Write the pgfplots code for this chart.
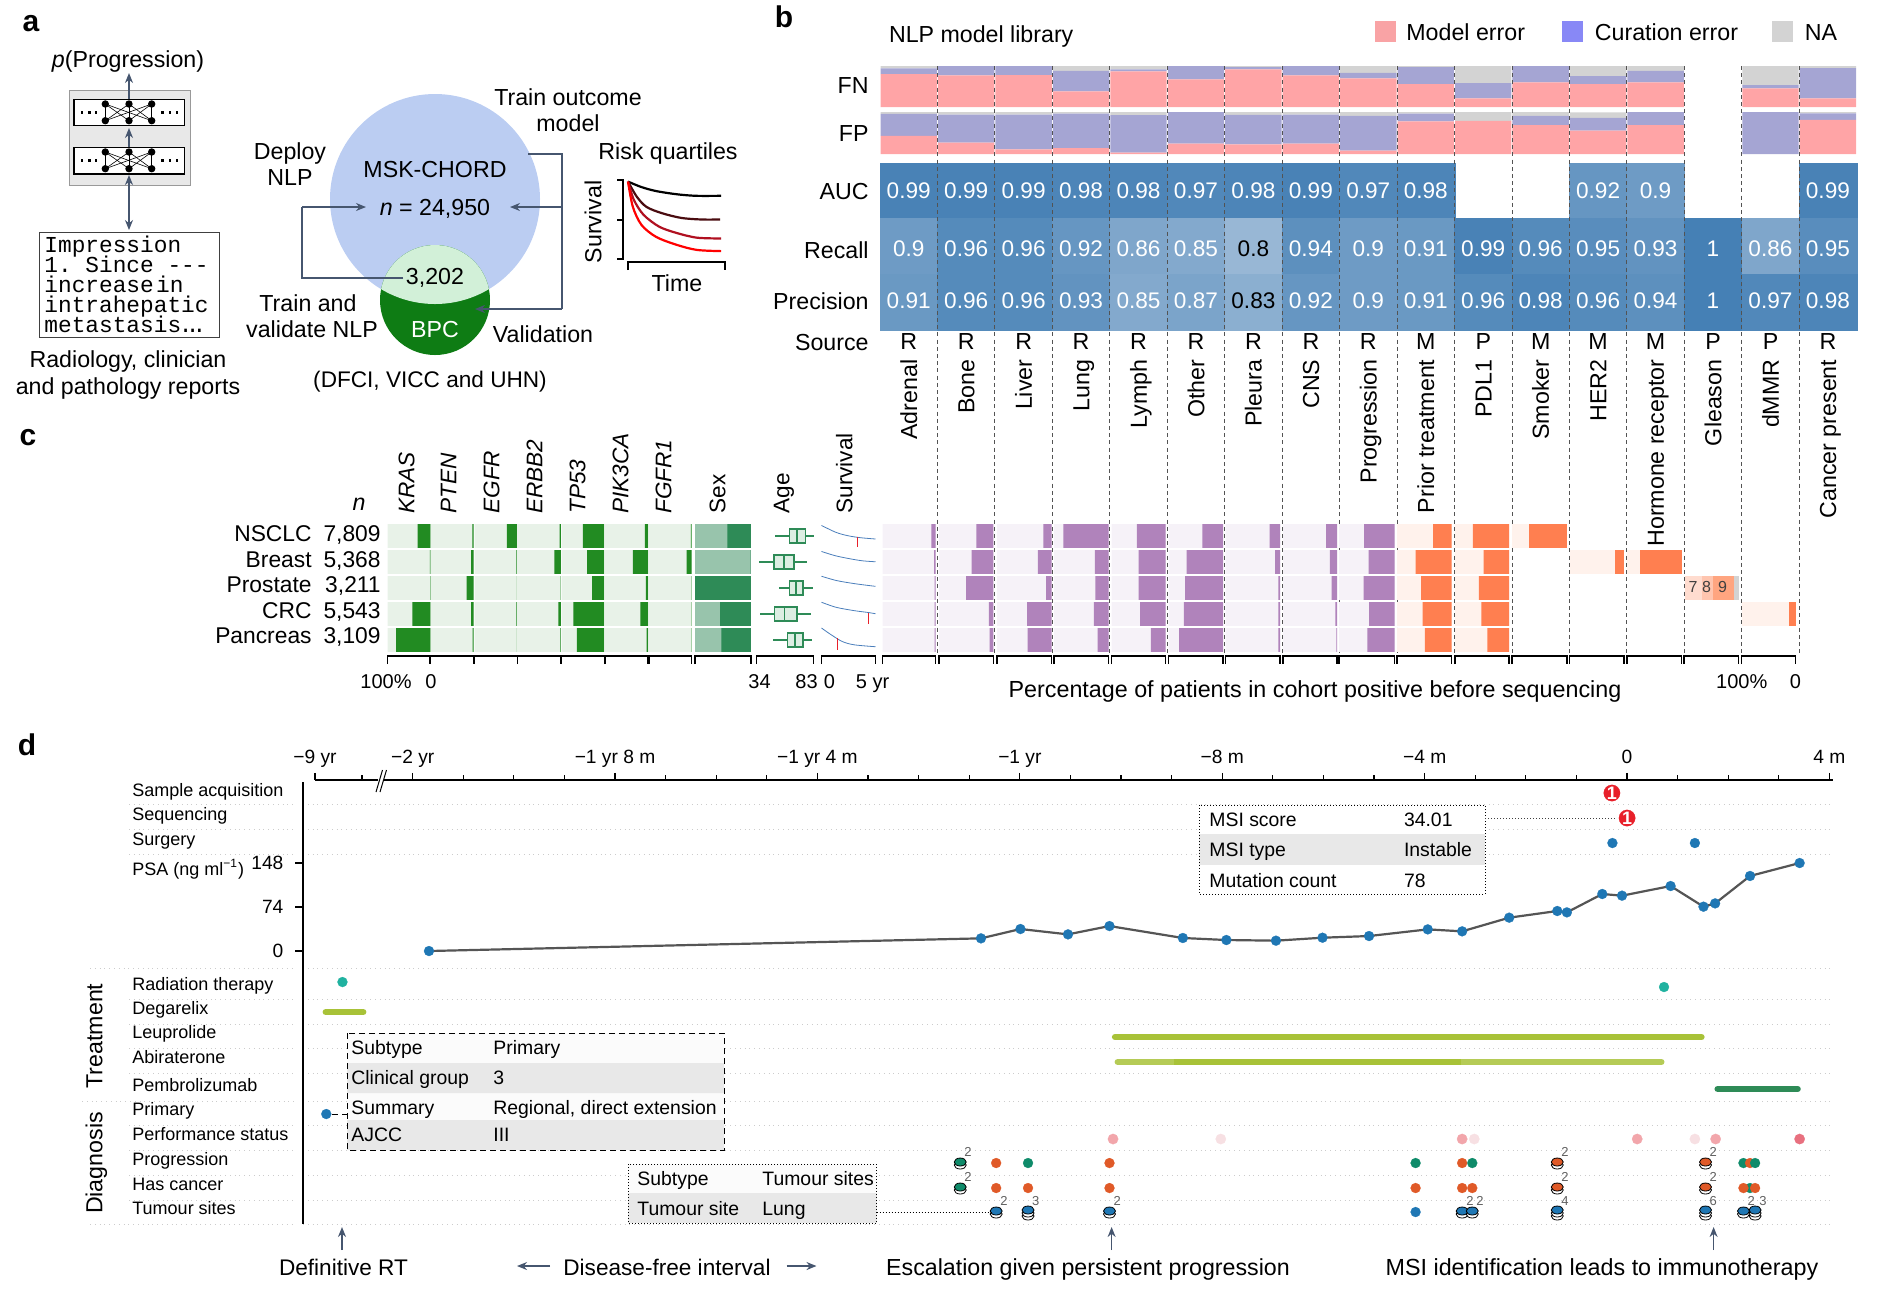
\documentclass[border=0pt]{standalone}
\usepackage{fontspec}
\setmainfont{Liberation Sans}
\setmonofont{Liberation Mono}
\usepackage{pgfplots}
\usepackage{pgfplotstable}
\pgfplotsset{compat=1.18}
\usepgfplotslibrary{statistics}
\usetikzlibrary{arrows.meta}

\newcommand\fs[1]{\fontsize{#1}{#1}\selectfont}

\definecolor{pinkerr}{HTML}{FFA4A6}
\definecolor{purperr}{HTML}{A5A5D3}
\definecolor{naerr}{HTML}{D3D3D3}
\definecolor{genel}{HTML}{E8F2E8}
\definecolor{gened}{HTML}{228B22}
\definecolor{sexl}{HTML}{98C4AC}
\definecolor{sexd}{HTML}{2E8B57}
\definecolor{agel}{HTML}{DDEEE3}
\definecolor{purl}{HTML}{F6F2F8}
\definecolor{purd}{HTML}{B083BB}
\definecolor{oral}{HTML}{FFF2EC}
\definecolor{orad}{HTML}{FF7F50}
\definecolor{arrowc}{HTML}{46566F}
\definecolor{tblue}{HTML}{1F77B4}
\definecolor{tred}{HTML}{E8202A}
\definecolor{tteal}{HTML}{20B2A0}
\definecolor{tgreen}{HTML}{0F8B6A}
\definecolor{torange}{HTML}{E05A28}
\definecolor{tolive}{HTML}{A8C238}
\definecolor{psal}{HTML}{555555}
\definecolor{vennb}{HTML}{BBCDF2}
\definecolor{venng}{HTML}{0E7C14}
\definecolor{vennl}{HTML}{D2F0D8}
\definecolor{crv2}{HTML}{4A0C10}
\definecolor{crv3}{HTML}{B01020}
\definecolor{keyp}{HTML}{F9A3A5}
\definecolor{keyc}{HTML}{8888F6}
\definecolor{gl9}{HTML}{FFA580}
\definecolor{gl8}{HTML}{FFC5AF}
\definecolor{gl7}{HTML}{FFDCCF}
\definecolor{ps1}{HTML}{F7E0E3}
\definecolor{ps2}{HTML}{F2A6AB}
\definecolor{ps3}{HTML}{E8707F}
\definecolor{survb}{HTML}{4A7EBB}

\tikzset{
  every node/.style={font=\fs{11.6},inner sep=0pt},
  pix/.style={x=0.5pt,y=-0.5pt},
  l/.style={anchor=mid west},
  r/.style={anchor=mid east},
  c/.style={anchor=mid},
  arr/.style={arrowc,line width=.7pt,-{Stealth[length=5pt,width=4pt]}},
}
\pgfplotsset{
  box/.style n args={4}{at={({#1*0.5pt},{-#2*0.5pt})},anchor=north west,scale only axis,
    width={(#3-#1)*0.5pt},height={(#4-#2)*0.5pt},clip=false},
  dot/.style={only marks,mark=*,mark size=2.5pt,color=#1,mark options={fill=#1,draw=#1,line width=.1pt}},
  stk/.style={only marks,mark=*,mark size=2.5pt,color=black,mark options={fill=#1,draw=black,line width=.4pt,xscale=1.2,yscale=.8}},
}

% panel b tables
\pgfplotstableread{
x model cur na
0 .805 .14 .055
1 .77 .23 0
2 .78 .22 0
3 .38 .50 .12
4 .87 .05 .08
5 .675 .325 0
6 .92 .055 .025
7 .77 .23 0
8 .70 .13 .17
9 .56 .415 .025
10 .21 .375 .415
11 .60 .40 0
12 .56 .195 .245
13 .60 .28 .12
15 .455 .08 .465
16 .21 .74 .05
}\fntable
\pgfplotstableread{
x model cur na
0 .43 .525 .045
1 .27 .67 .06
2 .11 .83 .06
3 .14 .82 .04
4 .03 .895 .075
5 .25 .75 0
6 .23 .70 .07
7 .25 .69 .06
8 .08 .83 .09
9 .78 .18 .04
10 .79 0 .21
11 .685 .225 .09
12 .555 .305 .13
13 .685 .315 0
15 0 1 0
16 .81 .155 .035
}\fptable

\newcommand\errbars[3]{%
  \begin{axis}[box={880}{#2}{1856.6}{#3},hide axis,xmin=-.5,xmax=16.5,ymin=0,ymax=1,
    ybar stacked,bar width=28.2pt]
    \addplot[fill=pinkerr,draw=none] table[x=x,y=model] {#1};
    \addplot[fill=purperr,draw=none] table[x=x,y=cur] {#1};
    \addplot[fill=naerr,draw=none] table[x=x,y=na] {#1};
  \end{axis}}

% panel c: one column, five cohorts, percentage runs from 100 at left to 0 at right
\newcommand\cbar[9]{%
  \begin{axis}[box={#1}{520.4}{#2}{655},hide axis,x dir=reverse,y dir=reverse,
    xmin=0,xmax=100,ymin=-.6,ymax=4.577,xbar,bar width=11.8pt,bar shift=0pt]
    \addplot[fill=#3,draw=none] coordinates {(100,0)(100,1)(100,2)(100,3)(100,4)};
    \addplot[fill=#4,draw=none] coordinates {(#5,0)(#6,1)(#7,2)(#8,3)(#9,4)};
  \end{axis}}
\newcommand\cpart[6]{%
  \begin{axis}[box={#1}{520.4}{#2}{655},hide axis,x dir=reverse,y dir=reverse,
    xmin=0,xmax=100,ymin=-.6,ymax=4.577,xbar,bar width=11.8pt,bar shift=0pt]
    \addplot[fill=#3,draw=none] coordinates {(100,#5)};
    \addplot[fill=#4,draw=none] coordinates {(#6,#5)};
  \end{axis}}
\newcommand\survrow[3]{%
  \begin{axis}[box={821.5}{#1}{875.5}{#1+24},hide axis,xmin=0,xmax=5,ymin=0,ymax=1]
    \addplot[survb,line width=.4pt,smooth] coordinates {#2};
    #3
  \end{axis}}
\newcommand\med[1]{\addplot[tred,line width=.5pt] coordinates {#1};}
\newcommand\brk[2]{\draw[line width=.6pt] (#1,664)--(#1,656)--(#2,656)--(#2,664);}

\begin{document}
\begin{tikzpicture}
\useasboundingbox (0,0) rectangle (942pt,-649pt);

%% ---------- panel a
\begin{scope}[pix,every node/.append style={yshift=-1pt}]
  \node[font=\fs{15}\bfseries,c] at (31,24) {a};
  \fill[gray!18] (69,90) rectangle (190,185);
  \draw[gray!80,line width=.5pt] (69,90) rectangle (190,185);
  \foreach \yt/\yb/\ya/\yc in {99.3/125.7/104/120.7,147.3/174/152/168.7}{
    \fill[white] (74,\yt) rectangle (184.5,\yb);
    \draw[line width=.7pt] (74,\yt) rectangle (184.5,\yb);
    \foreach \xa in {105.3,129,151.7}{
      \foreach \xb in {105.3,129,151.7}{\draw[line width=.3pt] (\xa,\ya)--(\xb,\yc);}
      \fill (\xa,\ya) circle (3.7);
      \fill (\xa,\yc) circle (3.7);
    }
    \pgfmathsetmacro\ym{(\yt+\yb)/2}
    \foreach \xd in {81.7,89.3,96,162.3,170,176.7}{\fill (\xd-1.2,\ym-1.2) rectangle (\xd+1.2,\ym+1.2);}
  }
  \draw[arr] (129,99)--(129,73);
  \draw[arr] (129,147)--(129,128);
  \draw[arrowc,line width=.7pt,{Stealth[length=5pt,width=4pt]}-{Stealth[length=5pt,width=4pt]}] (129,230)--(129,175);
  \node[c] at (128,60) {\textit{p}(Progression)};
  \draw[line width=.45pt,draw=gray!50!black,fill=white] (39,232) rectangle (219,337);
  \node[l,font=\fs{11.4}\ttfamily] at (44,245) {Impression};
  \node[l,font=\fs{11.4}\ttfamily] at (44,265) {1. Since ---};
  \node[l,font=\fs{11.4}\ttfamily] at (44,285) {increase\kern.1em in};
  \node[l,font=\fs{11.4}\ttfamily] at (44,305) {intrahepatic};
  \node[l,font=\fs{11.4}\ttfamily] at (44,325) {metastasis\kern-.1em.\kern-.3em.\kern-.3em.};
  \node[c] at (128,360) {Radiology, clinician};
  \node[c] at (128,387) {and pathology reports};
  \fill[vennb] (435,199) circle (105);
  \fill[venng] (435,300) circle (55);
  \begin{scope}
    \clip (435,199) circle (105);
    \fill[vennl] (435,300) circle (55);
  \end{scope}
  \draw[arrowc,line width=.7pt] (528,154)--(562,154)--(562,309);
  \draw[arr] (562,309)--(475,309);
  \draw[arr] (562,207)--(510,207);
  \draw[arrowc,line width=.7pt] (403,278)--(302,278)--(302,207);
  \draw[arr] (302,207)--(366,207);
  \node[c] at (435,170) {MSK-CHORD};
  \node[c] at (435,208) {\textit{n} = 24,950};
  \node[c] at (435,277) {3,202};
  \node[c,white] at (435,330) {BPC};
  \node[c] at (568,98) {Train outcome};
  \node[c] at (568,124) {model};
  \node[c] at (290,152) {Deploy};
  \node[c] at (290,178) {NLP};
  \node[c] at (308,304) {Train and};
  \node[c] at (312,330) {validate NLP};
  \node[c] at (543,335) {Validation};
  \node[c,font=\fs{11.3}] at (430,380) {(DFCI, VICC and UHN)};
  \node[c] at (668,152) {Risk quartiles};
  \node[c,rotate=90,yshift=1pt] at (598,220) {Survival};
  \node[c] at (677,284) {Time};
  \draw[line width=.6pt] (617,180)--(623,180)--(623,259)--(617,259) (617,220)--(623,220);
  \draw[line width=.6pt] (628,270)--(628,262)--(725,262)--(725,270);
\end{scope}
\begin{axis}[box={628}{180}{725}{259},hide axis,xmin=0,xmax=1,ymin=0,ymax=1]
  \addplot[black,line width=1.1pt,smooth] coordinates {(0,.98)(.14,.91)(.29,.86)(.5,.82)(.7,.80)(.96,.80)};
  \addplot[crv2,line width=1.1pt,smooth] coordinates {(0,.98)(.09,.79)(.19,.66)(.35,.58)(.55,.52)(.76,.50)(.95,.50)};
  \addplot[crv3,line width=1.1pt,smooth] coordinates {(0,.98)(.06,.75)(.16,.56)(.32,.41)(.5,.33)(.71,.27)(.96,.26)};
  \addplot[red,line width=1.1pt,smooth] coordinates {(0,.98)(.05,.66)(.14,.43)(.29,.28)(.5,.18)(.71,.115)(.96,.10)};
\end{axis}

%% ---------- panel b
\errbars{\fntable}{66}{107}
\errbars{\fptable}{112}{154}
\begin{axis}[box={880}{163}{1856.6}{330},hide axis,xmin=-.5,xmax=16.5,y dir=reverse,ymin=-.5,ymax=2.5,
  colormap={hm}{rgb255=(152,183,213) rgb255=(69,128,181)},
  point meta min=.8,point meta max=1,
  /pgf/number format/.cd,fixed,precision=2,assume math mode=true]
  \addplot[scatter,only marks,mark=square*,mark size=14pt,scatter src=explicit,
    mark options={xscale=1.03,yscale=1,line width=.05pt},scatter/use mapped color={fill=mapped color,draw=mapped color}]
    coordinates {
    (0,0)[.99](1,0)[.99](2,0)[.99](3,0)[.98](4,0)[.98](5,0)[.97](6,0)[.98](7,0)[.99](8,0)[.97](9,0)[.98](12,0)[.92](13,0)[.9](16,0)[.99]
    (0,1)[.9](1,1)[.96](2,1)[.96](3,1)[.92](4,1)[.86](5,1)[.85](6,1)[.8](7,1)[.94](8,1)[.9](9,1)[.91](10,1)[.99](11,1)[.96](12,1)[.95](13,1)[.93](14,1)[1](15,1)[.86](16,1)[.95]
    (0,2)[.91](1,2)[.96](2,2)[.96](3,2)[.93](4,2)[.85](5,2)[.87](6,2)[.83](7,2)[.92](8,2)[.9](9,2)[.91](10,2)[.96](11,2)[.98](12,2)[.96](13,2)[.94](14,2)[1](15,2)[.97](16,2)[.98]
    };
  \addplot[only marks,mark=none,point meta=explicit,nodes near coords,
    nodes near coords style={anchor=center,white,font=\fs{11.3}}] coordinates {
    (0,0)[.99](1,0)[.99](2,0)[.99](3,0)[.98](4,0)[.98](5,0)[.97](6,0)[.98](7,0)[.99](8,0)[.97](9,0)[.98](12,0)[.92](13,0)[.9](16,0)[.99]
    (0,1.035)[.9](1,1.035)[.96](2,1.035)[.96](3,1.035)[.92](4,1.035)[.86](5,1.035)[.85](7,1.035)[.94](8,1.035)[.9](9,1.035)[.91](10,1.035)[.99](11,1.035)[.96](12,1.035)[.95](13,1.035)[.93](14,1.035)[1](15,1.035)[.86](16,1.035)[.95]
    (0,1.975)[.91](1,1.975)[.96](2,1.975)[.96](3,1.975)[.93](4,1.975)[.85](5,1.975)[.87](7,1.975)[.92](8,1.975)[.9](9,1.975)[.91](10,1.975)[.96](11,1.975)[.98](12,1.975)[.96](13,1.975)[.94](14,1.975)[1](15,1.975)[.97](16,1.975)[.98]
    };
  \addplot[only marks,mark=none,point meta=explicit,nodes near coords,
    nodes near coords style={anchor=center,black,font=\fs{11.3}}] coordinates {(6,1.035)[.8](6,1.975)[.83]};
\end{axis}
\begin{scope}[pix,every node/.append style={yshift=-1.1pt}]
  \node[font=\fs{15}\bfseries,c] at (784,20) {b};
  \node[l] at (888.6,35) {NLP model library};
  \fill[keyp] (1375,21) rectangle (1396,42);
  \node[l] at (1406,33) {Model error};
  \fill[keyc] (1562,21) rectangle (1583,42);
  \node[l] at (1594.5,33) {Curation error};
  \fill[naerr] (1772,21) rectangle (1793,42);
  \node[l] at (1804.5,33) {NA};
  \foreach \t/\y in {FN/86,FP/134,AUC/192,Recall/251,Precision/302,Source/343}{\node[r] at (869,\y) {\t};}
  \foreach \i in {1,...,16}{
    \pgfmathsetmacro\xx{880+57.45*\i}
    \draw[gray!65!black,line width=.45pt,dash pattern=on 2pt off 1.6pt] (\xx,66)--(\xx,653);
  }
  \foreach \i/\s/\t in {0/R/Adrenal,1/R/Bone,2/R/Liver,3/R/Lung,4/R/Lymph,5/R/Other,6/R/Pleura,7/R/CNS,8/R/Progression,9/M/Prior treatment,10/P/PDL1,11/M/Smoker,12/M/HER2,13/M/Hormone receptor,14/P/Gleason,15/P/dMMR,16/R/Cancer present}{
    \pgfmathsetmacro\xx{880+57.45*(\i+.5)}
    \node[c] at (\xx,342) {\s};
    \node[rotate=90,anchor=mid east] at (\xx+3,357) {\t};
  }
\end{scope}

%% ---------- panel c
\cbar{387.5}{430.5}{genel}{gened}{30}{1.5}{1}{42}{80}
\cbar{430.5}{473.6}{genel}{gened}{3}{6}{16}{6}{2.5}
\cbar{474.5}{517.2}{genel}{gened}{24}{2}{.5}{2}{.5}
\cbar{517.2}{560.9}{genel}{gened}{3}{15}{.5}{6}{1}
\cbar{561.5}{604}{genel}{gened}{50}{40}{28}{72}{64}
\cbar{605}{648}{genel}{gened}{7}{35}{5}{18}{3}
\cbar{649}{691.7}{genel}{gened}{2}{12}{1}{1}{1}
\cbar{695}{750.9}{sexl}{sexd}{42}{.5}{100}{55}{53}
\cbar{882.5}{935.7}{purl}{purd}{8}{3}{2}{2}{2}
\cbar{939}{993.3}{purl}{purd}{31}{40}{50}{8}{7}
\cbar{997}{1051.6}{purl}{purd}{15}{25}{10}{45}{44}
\cbar{1054}{1108.5}{purl}{purd}{83}{25}{24}{27}{20}
\cbar{1111.7}{1165.5}{purl}{purd}{53}{50}{50}{47}{27}
\cbar{1168.7}{1223}{purl}{purd}{38}{67}{70}{72}{81}
\cbar{1225.7}{1280}{purl}{purd}{19}{9}{3}{3}{3}
\cbar{1283}{1337}{purl}{purd}{20}{13}{10}{3}{1}
\cbar{1339}{1394.7}{purl}{purd}{55}{47}{56}{46}{49}
\cbar{1397}{1451.7}{oral}{orad}{34}{66}{56}{53}{49}
\cbar{1455}{1509}{oral}{orad}{67}{47}{56}{51}{40}
\cpart{1512}{1567}{oral}{orad}{0}{69}
\cpart{1569.5}{1624}{oral}{orad}{1}{16}
\cpart{1627}{1681.5}{oral}{orad}{1}{77}
\cpart{1741.7}{1795.5}{oral}{orad}{3}{12}
\begin{axis}[box={1684}{520.4}{1738.5}{655},hide axis,x dir=reverse,y dir=reverse,
  xmin=0,xmax=100,ymin=-.6,ymax=4.577,xbar stacked,bar width=11.8pt]
  \addplot[fill=naerr,draw=none] coordinates {(8,2)};
  \addplot[fill=gl9,draw=none] coordinates {(39,2)};
  \addplot[fill=gl8,draw=none] coordinates {(20,2)};
  \addplot[fill=gl7,draw=none] coordinates {(31,2)};
\end{axis}
% age distribution of each cohort
\begin{axis}[box={756.6}{520.4}{813.4}{655},hide axis,y dir=reverse,xmin=34,xmax=83,ymin=-.6,ymax=4.577,
  boxplot/box extend=.55,boxplot/whisker extend=0]
  \addplot[boxplot prepared={lower whisker=49.8,lower quartile=62.2,median=69,upper quartile=76,upper whisker=83.5,draw position=0},draw=sexd,fill=agel,line width=.7pt] coordinates {};
  \addplot[boxplot prepared={lower whisker=36,lower quartile=48.9,median=57.8,upper quartile=66.2,upper whisker=77.5,draw position=1},draw=sexd,fill=agel,line width=.7pt] coordinates {};
  \addplot[boxplot prepared={lower whisker=53.3,lower quartile=62.2,median=68,upper quartile=74.1,upper whisker=82.5,draw position=2},draw=sexd,fill=agel,line width=.7pt] coordinates {};
  \addplot[boxplot prepared={lower whisker=37,lower quartile=49.3,median=58,upper quartile=68.7,upper whisker=81,draw position=3},draw=sexd,fill=agel,line width=.7pt] coordinates {};
  \addplot[boxplot prepared={lower whisker=47.9,lower quartile=60.7,median=67,upper quartile=74,upper whisker=82,draw position=4},draw=sexd,fill=agel,line width=.7pt] coordinates {};
\end{axis}
\survrow{524}{(0,.94)(1.35,.65)(2.47,.51)(3.6,.43)(5,.375)}{\med{(3.37,.46)(3.37,.04)}}
\survrow{550}{(0,.94)(1.29,.76)(2.7,.63)(3.8,.55)(5,.51)}{}
\survrow{576}{(0,.99)(1.4,.81)(3.09,.68)(5,.57)}{}
\survrow{602}{(0,.99)(1.35,.78)(3.03,.64)(4.38,.56)(5,.51)}{\med{(4.38,.53)(4.38,.08)}}
\survrow{628}{(0,1)(.79,.75)(1.91,.44)(3.03,.30)(5,.22)}{\med{(1.46,.58)(1.46,.08)}}
\begin{scope}[pix]
  \node[font=\fs{15}\bfseries,c] at (28,440) {c};
  \node[c] at (359,505) {\textit{n}};
  \foreach \t/\n/\y in {NSCLC/7{,}809/536,Breast/5{,}368/562,Prostate/3{,}211/587,CRC/5{,}543/613,Pancreas/3{,}109/638}{
    \node[r,font=\fs{11.4}] at (312,\y) {\t};
    \node[r,font=\fs{11.4}] at (381,\y) {\n};
  }
  \foreach \t/\x in {KRAS/409,PTEN/451,EGFR/494,ERBB2/537,TP53/580,PIK3CA/623,FGFR1/666}{
    \node[rotate=90,anchor=mid west,font=\fs{11.3}] at (\x,514) {\textit{\t}};
  }
  \foreach \t/\x in {Sex/720,Age/784,Survival/847}{
    \node[rotate=90,anchor=mid west,font=\fs{11.3}] at (\x,514) {\t};
  }
  \foreach \a/\b in {387.5/430,430.5/473.6,474.5/517.2,517.8/560.9,561.5/604.5,605/648,649/691.7,695/750.9,756.6/813.4,821.5/875.5,882.5/935.7,939/993.3,997/1051.6,1054/1108.5,1111.7/1165.5,1168.7/1223,1225.7/1280,1283/1337,1339/1394.7,1397/1451.7,1455/1509,1512/1567,1569.5/1624,1627/1681.5,1684/1738.5,1741.7/1795.5}{\brk{\a}{\b}}
  \foreach \t/\x in {100\%/386,0/431,34/759.5,83/806.5,0/829.5,5 yr/872.6,100\%/1741.7,0/1795.5}{
    \node[c,font=\fs{10}] at (\x,683) {\t};
  }
  \node[c,font=\fs{11.65}] at (1315,692) {Percentage of patients in cohort positive before sequencing};
  \foreach \t/\x in {7/1693,8/1706.5,9/1722.5}{\node[c,font=\fs{8},gray!50!black] at (\x,587) {\t};}
\end{scope}

%% ---------- panel d
\begin{axis}[box={315}{779.8}{1833}{780},separate axis lines,
  x axis line style={line width=.7pt},y axis line style={draw=none},ytick=\empty,
  xtick pos=top,xticklabel pos=top,
  xmin=-25.93,xmax=4.07,ymin=0,ymax=1,tick align=outside,major tick length=3.4pt,minor tick length=2.2pt,
  tick style={black,line width=.6pt},
  xtick={-25.93,-24,-20,-16,-12,-8,-4,0,4},
  xticklabels={−9 yr,−2 yr,−1 yr 8 m,−1 yr 4 m,−1 yr,−8 m,−4 m,0,4 m},
  minor xtick={-25,-23,-22,-21,-19,-18,-17,-15,-14,-13,-11,-10,-9,-7,-6,-5,-3,-2,-1,1,2,3},
  xticklabel style={font=\fs{9.6},text depth=0pt},xticklabel shift=4.5pt]
\end{axis}
\begin{axis}[box={303}{782}{1833}{1224},axis x line=none,axis y line=left,axis line style={-,line width=.6pt},
  xmin=-26.17,xmax=4.07,y dir=reverse,ymin=782,ymax=1224,
  ytick={804,829,854,968,999,1024,1048,1073,1101,1125,1150,1175,1200,1224},yticklabels={},
  major tick length=0pt,ymajorgrids,grid style={dotted,line width=.4pt,gray!40}]
  % sample acquisition, sequencing, surgery
  \addplot[dot=tred,mark size=4.1pt,point meta=explicit symbolic,
    nodes near coords,nodes near coords style={anchor=center,white,font=\fs{9}\bfseries}]
    coordinates {(-0.30,793)[1](0,818)[1]};
  \addplot[dot=tblue] coordinates {(-0.29,843)(1.34,843)};
  % radiation therapy and drugs
  \addplot[dot=tteal] coordinates {(-25.39,982)(0.73,987)};
  \addplot[tolive,line width=3.2pt,line cap=round] coordinates {(-25.72,1012)(-24.98,1012)};
  \addplot[tolive,line width=3.2pt,line cap=round] coordinates {(-10.12,1037)(1.47,1037)};
  \addplot[tolive!85!white,line width=3pt,line cap=round] coordinates {(-10.07,1062)(.68,1062)};
  \addplot[tolive,line width=3.2pt] coordinates {(-8.96,1062)(-3.28,1062)};
  \addplot[sexd,line width=3.2pt,line cap=round] coordinates {(1.79,1089)(3.37,1089)};
  % primary
  \addplot[dot=tblue] coordinates {(-25.71,1114)};
  % performance status
  \addplot[dot=ps1,mark size=2.6pt] coordinates {(-8.03,1139)(-3.02,1139)(1.34,1139)};
  \addplot[dot=ps2,mark size=2.6pt] coordinates {(-10.16,1139)(-3.26,1139)(0.20,1139)(1.75,1139)};
  \addplot[dot=ps3,mark size=2.6pt] coordinates {(3.41,1139)};
  % lower layers of stacked events
  \addplot[stk=white]
    coordinates {(-13.18,1165)(-1.38,1165)(1.55,1165)(-13.18,1190)(-1.38,1190)(1.55,1190)
      (-12.47,1214)(-10.23,1214)(-3.26,1214)(-3.06,1214)(2.30,1214)
      (-11.84,1216)(-1.38,1216)(1.55,1216)(2.53,1216)(-11.84,1213)(-1.38,1213)(1.55,1213)(2.53,1213)};
  % progression, has cancer, tumour sites
  \addplot[stk=tgreen] coordinates {(-13.18,1162)(-13.18,1187)};
  \addplot[stk=torange] coordinates {(-1.38,1162)(1.55,1162)(-1.38,1187)(1.55,1187)};
  \addplot[stk=tblue]
    coordinates {(-12.47,1211)(-10.23,1211)(-3.26,1211)(-3.06,1211)(2.30,1211)(-11.84,1210)(-1.38,1210)(1.55,1210)(2.53,1210)};
  \addplot[dot=tgreen] coordinates {(-11.84,1163)(-4.18,1163)(-3.06,1163)(2.30,1163)(2.43,1188)};
  \addplot[dot=torange]
    coordinates {(-12.47,1163)(-10.23,1163)(-3.26,1163)(2.43,1163)
      (-12.47,1188)(-11.84,1188)(-10.23,1188)(-4.18,1188)(-3.26,1188)(-3.06,1188)(2.30,1188)(2.53,1188)};
  \addplot[dot=tgreen] coordinates {(2.53,1163)};
  \addplot[dot=tblue] coordinates {(-4.18,1212)};
  % event counts
  \addplot[only marks,mark=none,point meta=explicit symbolic,nodes near coords,
    nodes near coords style={anchor=center,xshift=3.9pt,yshift=5pt,font=\fs{6.5},gray!75!black}]
    coordinates {(-13.18,1162)[2](-1.38,1162)[2](1.55,1162)[2](-13.18,1187)[2](-1.38,1187)[2](1.55,1187)[2]
      (-12.47,1211)[2](-11.84,1211)[3](-10.23,1211)[2](-3.26,1211)[2](-3.06,1211)[2](-1.38,1211)[4](1.55,1211)[6](2.30,1211)[2](2.53,1211)[3]};
\end{axis}
\begin{axis}[box={303}{863}{1833}{951},separate axis lines,
  x axis line style={draw=none},y axis line style={draw=none},xtick=\empty,
  ytick pos=left,yticklabel pos=left,
  xmin=-26.17,xmax=4.07,ymin=0,ymax=148,ytick={0,74,148},tick align=outside,major tick length=3.9pt,
  tick style={black,line width=.6pt},
  yticklabel style={font=\fs{9.6}},yticklabel shift=5.7pt,
  /pgf/number format/assume math mode=true]
  \addplot[psal,line width=1.1pt,mark=*,mark size=2.5pt,mark options={fill=tblue,draw=tblue,line width=.1pt}] coordinates {
    (-23.68,0)(-12.77,21.3)(-11.99,37.0)(-11.05,28.0)(-10.23,42.0)(-8.78,21.9)(-7.92,18.5)(-6.94,17.4)
    (-6.02,22.4)(-5.10,25.2)(-3.94,36.4)(-3.26,33.1)(-2.33,56.1)(-1.38,67.3)(-1.19,65.0)(-0.49,95.9)
    (-0.10,93.1)(0.86,109.3)(1.51,74.6)(1.74,80.1)(2.43,126.2)(3.41,148.0)};
\end{axis}
\begin{scope}[pix]
  \node[font=\fs{15}\bfseries,c] at (27,750) {d};
  \fill[white] (378,772) rectangle (384,788);
  \draw[line width=.5pt] (376,792)--(382.5,770) (380,792)--(386.5,770);
  \foreach \y in {804,829,854,999,1024,1048,1073,1125,1150,1175,1200}{\draw[dotted,line width=.4pt,gray!40] (129,\y)--(294,\y);}
  \draw[dotted,line width=.4pt,gray!40] (90,968)--(294,968) (82,1101)--(294,1101) (90,1224)--(294,1224);
  \foreach \t/\y in {Sample acquisition/791,Sequencing/815,Surgery/840,PSA (ng ml\textsuperscript{−1})/870,Radiation therapy/985,Degarelix/1009,Leuprolide/1033,Abiraterone/1058,Pembrolizumab/1086,Primary/1110,Performance status/1135,Progression/1160,Has cancer/1185,Tumour sites/1209}{
    \node[l,font=\fs{9}] at (132,\y) {\t};
  }
  \node[c,rotate=90] at (97,1036) {Treatment};
  \node[c,rotate=90] at (97,1163) {Diagnosis};
  % MSI table
  \fill[white] (1199,805) rectangle (1485,894);
  \fill[gray!18] (1199,834) rectangle (1485,865);
  \draw[densely dotted,line width=.5pt] (1199,805) rectangle (1485,894);
  \foreach \a/\b/\y in {MSI score/34.01/821,MSI type/Instable/851,Mutation count/78/882}{
    \node[l,font=\fs{9.7}] at (1209,\y) {\a};
    \node[l,font=\fs{9.7}] at (1403.6,\y) {\b};
  }
  \draw[densely dotted,line width=.5pt,gray!50!black] (1485,818)--(1617,818);
  % primary table
  \fill[gray!3] (347,1033) rectangle (724,1150);
  \fill[gray!18] (347,1063) rectangle (724,1093) (347,1120) rectangle (724,1150);
  \draw[densely dashed,line width=.45pt] (347,1033) rectangle (724,1150);
  \foreach \a/\b/\y in {Subtype/Primary/1049,Clinical group/3/1079,Summary/{Regional, direct extension}/1109,AJCC/III/1136}{
    \node[l,font=\fs{9.7}] at (351,\y) {\a};
    \node[l,font=\fs{9.7}] at (493,\y) {\b};
  }
  \draw[densely dashed,line width=.4pt] (332,1114)--(347,1114);
  % tumour site table
  \fill[gray!3] (628,1164) rectangle (876.5,1223);
  \fill[gray!18] (628,1193) rectangle (876.5,1223);
  \draw[densely dotted,line width=.5pt] (628,1164) rectangle (876.5,1223);
  \foreach \a/\b/\y in {Subtype/Tumour sites/1180,Tumour site/Lung/1210}{
    \node[l,font=\fs{9.7}] at (637,\y) {\a};
    \node[l,font=\fs{9.7}] at (762,\y) {\b};
  }
  \draw[densely dotted,line width=.5pt] (876.5,1212)--(991,1212);
  % annotations
  \foreach \x in {342,1111.6,1713.6}{\draw[arr] (\x,1250)--(\x,1227);}
  \node[c,font=\fs{11.3}] at (343.5,1270) {Definitive RT};
  \node[c,font=\fs{11.3}] at (667,1270) {Disease-free interval};
  \draw[arr] (550,1266)--(517,1266);
  \draw[arr] (786.6,1266)--(816.5,1266);
  \node[c] at (1088,1270) {Escalation given persistent progression};
  \node[c,font=\fs{11.65}] at (1602,1270) {MSI identification leads to immunotherapy};
\end{scope}
\end{tikzpicture}
\end{document}
